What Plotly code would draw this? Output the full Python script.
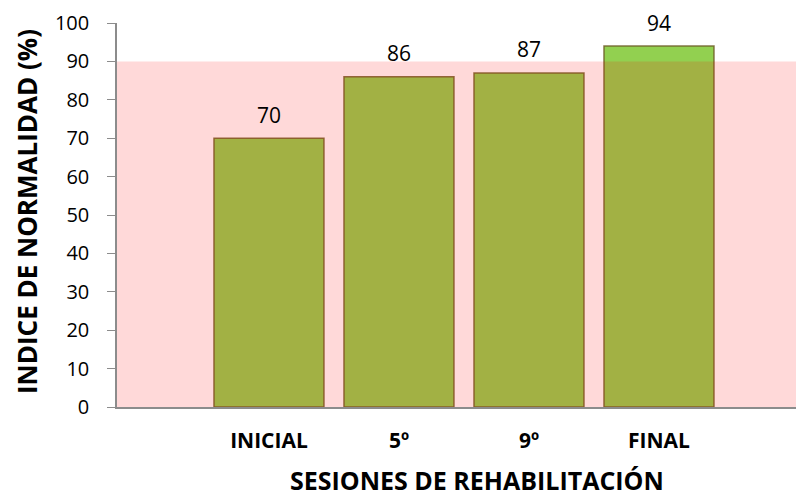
import plotly.graph_objects as go

categories = ["INICIAL", "5º", "9º", "FINAL"]
values = [70, 86, 87, 94]
y_ticks = [0, 10, 20, 30, 40, 50, 60, 70, 80, 90, 100]
normal_limit = 90

FONT = "Open Sans"

fig = go.Figure()
fig.add_trace(go.Bar(
    x=categories, y=values, width=0.846,
    marker=dict(color="#92D050", line=dict(color="rgba(110,95,40,0.85)", width=1.5)),
    hoverinfo="skip",
))

fig.add_shape(type="rect", xref="paper", yref="y", x0=0, x1=1, y0=0, y1=normal_limit,
              fillcolor="rgba(255,0,0,0.15)", line=dict(width=0), layer="above")

for c, v in zip(categories, values):
    fig.add_annotation(x=c, y=v, text=str(v), showarrow=False, yanchor="middle",
                       yshift=23.5, font=dict(family=FONT, size=21, color="black"))

fig.add_annotation(xref="paper", yref="paper", x=0.53, y=0, yanchor="middle",
                   yshift=-73, borderpad=0, text="<b>SESIONES DE REHABILITACIÓN</b>",
                   showarrow=False, font=dict(family=FONT, size=25, color="black"))
fig.add_annotation(xref="paper", yref="paper", x=0, y=0.5, xanchor="center", yanchor="middle",
                   xshift=-90, yshift=3, text="<b>INDICE DE NORMALIDAD (%)</b>", showarrow=False,
                   textangle=-90, font=dict(family=FONT, size=26, color="black"))

fig.update_layout(
    width=796, height=497,
    margin=dict(l=117, r=0, t=23, b=90, autoexpand=False),
    plot_bgcolor="white", paper_bgcolor="white",
    showlegend=False,
    xaxis=dict(type="category", range=[-1.169, 4.054], showline=True, linecolor="#8c8c8c",
               linewidth=1.5, ticks="outside", ticklen=14, tickcolor="rgba(0,0,0,0)",
               tickfont=dict(family=FONT, size=21, color="black"),
               tickvals=categories, ticktext=[f"<b>{c}</b>" for c in categories],
               showgrid=False, zeroline=False, fixedrange=True, automargin=False),
    yaxis=dict(range=[0, 100], tickvals=y_ticks, showline=True, linecolor="#8c8c8c",
               linewidth=1.5, ticks="outside", ticklen=8, tickcolor="#8c8c8c",
               ticklabelstandoff=14,
               tickfont=dict(family=FONT, size=20, color="black"),
               showgrid=False, zeroline=False, fixedrange=True, automargin=False),
)

fig.write_html("out.html", config={"displayModeBar": False},
               post_script="document.body.style.margin='0px';")
